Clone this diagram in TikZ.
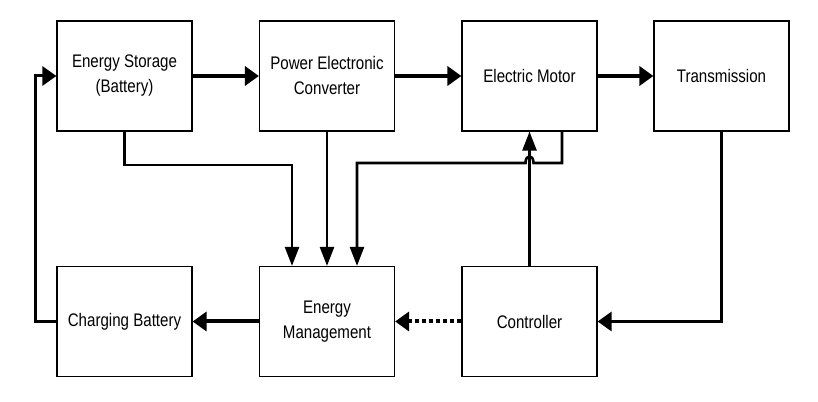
\documentclass[tikz,border=0pt]{standalone}
\usepackage{fontspec}
\setmainfont[FakeStretch=0.83]{Liberation Sans}
\usepackage{tikz}
\usetikzlibrary{arrows.meta}
\tikzset{
  blk/.style={draw,line width=0.6pt,minimum width=67.5pt,minimum height=55pt,align=center,inner sep=1pt,font=\fontsize{9.1}{12.5}\selectfont},
  hl/.style={line width=2pt,-{Triangle[length=7pt,width=9.5pt]}},
  vl/.style={line width=1.3pt,-{Triangle[length=9.5pt,width=7pt]}},
  dl/.style={hl,dash pattern=on 2pt off 1.5pt},
  ln/.style={line width=1.3pt}
}

\begin{document}
\begin{tikzpicture}[x=0.5pt,y=0.5pt]
\useasboundingbox (0,0) rectangle (818,401);
\node[blk] (es) at (124.5,325) {Energy Storage\\(Battery)};
\node[blk] (pec) at (327,325) {Power Electronic\\Converter};
\node[blk] (mot) at (529.5,325) {Electric Motor};
\node[blk] (tr) at (721.5,325) {Transmission};
\node[blk] (cb) at (124.5,79.5) {Charging Battery};
\node[blk] (emg) at (327,79.5) {Energy\\Management};
\node[blk] (ctl) at (529.5,79.5) {Controller};
\coordinate (j1) at (292,236);
\coordinate (j2) at (562,238);
% top row
\draw[hl] (es.east) -- (pec.west);
\draw[hl] (pec.east) -- (mot.west);
\draw[hl] (mot.east) -- (tr.west);
% into energy management
\draw[vl] (es.south) |- (j1) -- (j1 |- emg.north);
\draw[vl] (pec.south) -- (emg.north);
\draw[vl] (mot.south -| j2) -- (j2) -- (533.5,238) .. controls (533.5,247) and (525.5,247) .. (525.5,238) -- (357,238) -- (357,238 |- emg.north);
\draw[vl] (ctl.north) -- (mot.south);
% bottom row
\draw[hl,line width=1.6pt] (tr.south) |- (ctl.east);
\draw[dl] (ctl.west) -- (emg.east);
\draw[hl] (emg.west) -- (cb.east);
\draw[hl,line width=1.5pt] (cb.west) -- ++(-21,0) |- (es.west);
\end{tikzpicture}
\end{document}
